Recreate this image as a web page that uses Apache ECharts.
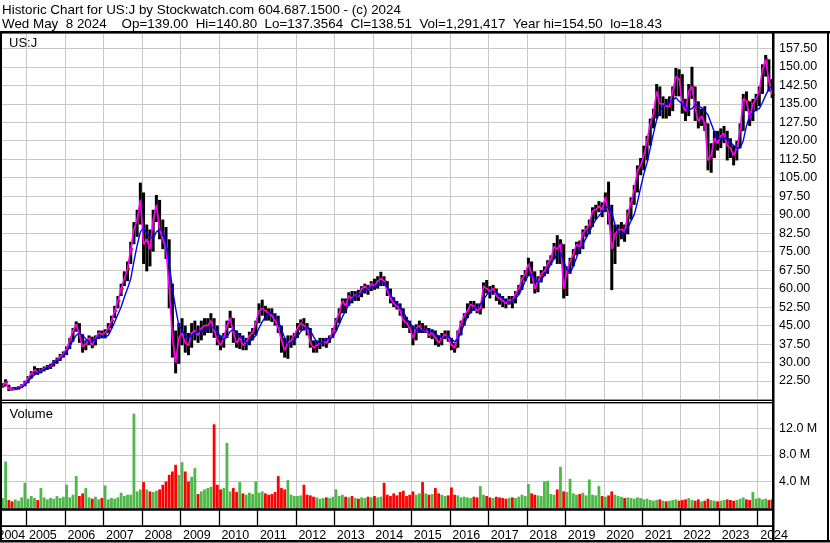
<!DOCTYPE html>
<html><head><meta charset="utf-8">
<script src="https://cdn.jsdelivr.net/npm/echarts@6/dist/echarts.min.js"></script>
<style>html,body{margin:0;padding:0;background:#fff}#c{width:830px;height:543px}</style>
</head><body><div id="c"></div>
<script>
// ---------------- DATA (monthly, May 2004 .. May 2024) ----------------
const FIRST_YEAR = 2004, FIRST_MONTH = 5;
const years = [2004,2005,2006,2007,2008,2009,2010,2011,2012,2013,2014,2015,2016,2017,2018,2019,2020,2021,2022,2023,2024];
const header1 = 'Historic Chart for US:J by Stockwatch.com 604.687.1500 - (c) 2024';
const header2 = 'Wed May  8 2024    Op=139.00  Hi=140.80  Lo=137.3564  Cl=138.51  Vol=1,291,417  Year hi=154.50  lo=18.43';
const symbolLabel = 'US:J';
const volumeLabel = 'Volume';

const closes = [
 20.5,22.0,19.3,19.2,19.5,19.8,20.6,21.8,
 23.8,25.5,27.0,26.0,26.8,27.6,28.2,28.6,30.2,31.0,32.5,33.6,
 35.6,39.0,43.0,45.5,41.0,36.5,37.5,40.0,37.0,40.0,42.0,41.5,
 42.0,44.0,47.0,51.0,55.0,60.0,64.0,68.0,76.0,84.0,88.0,96.0,
 78.0,80.0,76.0,88.0,94.0,84.0,80.0,76.0,60.0,40.0,30.0,40.0,
 42.0,38.0,37.0,42.0,43.0,41.0,44.0,45.0,45.0,47.0,43.0,39.0,
 37.0,40.0,45.0,48.0,42.0,38.0,40.0,37.0,38.0,41.0,42.0,46.0,
 51.0,52.0,51.0,50.0,49.0,47.0,44.0,39.0,35.0,38.0,39.0,41.0,
 44.0,46.0,45.0,44.0,38.0,36.0,37.0,38.0,38.5,38.0,40.0,42.5,
 47.0,50.0,55.0,53.0,57.0,56.0,57.5,57.0,60.0,61.0,59.5,62.0,
 61.0,63.0,64.0,63.0,59.0,56.0,54.0,53.0,51.0,47.0,46.0,44.0,
 40.0,44.0,45.0,43.0,43.5,41.0,42.0,40.0,38.0,40.0,41.5,40.0,
 37.0,36.0,42.0,46.0,49.0,51.0,53.5,53.0,51.0,52.0,61.0,60.0,
 59.0,60.0,57.0,56.0,55.0,54.0,55.5,55.0,58.0,60.0,64.0,66.0,
 70.0,66.0,60.0,63.0,66.0,67.0,70.0,72.0,77.0,76.0,78.0,60.0,
 67.0,71.0,74.0,78.0,77.0,82.5,84.0,86.0,91.5,92.0,93.5,92.0,
 97.0,90.0,76.0,82.0,84.0,84.0,83.0,90.0,95.0,100.0,108.0,110.0,
 114.0,120.0,127.0,131.0,140.0,135.0,135.0,134.0,134.0,140.0,146.0,145.0,
 135.0,132.0,140.0,142.0,133.0,128.0,130.0,127.0,112.0,114.0,121.0,119.0,
 122.0,123.0,118.0,117.0,114.0,117.0,124.0,137.0,136.0,129.0,135.0,137.0,
 140.0,149.0,153.0,144.0,138.5
];
const highs = [
 21.6,23.2,21.0,19.9,20.1,20.4,21.2,22.6,
 24.5,26.5,28.5,27.8,27.8,28.4,29.0,29.5,31.0,32.0,33.5,34.5,
 36.5,40.0,44.0,46.7,46.0,41.5,39.0,41.0,40.5,41.0,43.0,43.0,
 43.5,46.0,49.0,53.0,57.0,62.0,67.0,71.0,79.0,87.0,92.0,103.0,
 99.0,86.0,84.0,92.0,98.0,96.0,88.0,85.0,80.0,62.0,43.0,46.0,
 48.0,45.0,42.0,46.0,47.0,45.0,47.0,48.0,48.0,50.0,48.0,45.0,
 41.0,42.0,47.0,51.0,48.0,43.0,42.0,41.0,40.0,42.5,44.0,47.0,
 54.0,55.5,53.0,52.0,52.0,50.0,49.0,45.0,40.0,41.0,41.0,42.0,
 46.0,47.5,48.0,46.0,44.0,39.0,39.0,40.0,40.0,40.0,41.0,44.0,
 48.0,52.0,56.0,56.0,58.5,59.0,59.0,59.5,61.0,62.0,61.5,63.0,
 64.0,65.0,66.8,65.0,63.0,60.0,56.5,55.0,54.0,52.0,48.5,47.0,
 45.0,45.5,47.0,46.0,45.0,44.0,43.5,43.0,41.0,42.0,43.0,43.0,
 40.0,38.0,43.0,47.0,50.0,54.0,55.0,55.0,54.0,54.0,62.5,63.5,
 61.0,61.5,60.0,58.0,57.0,56.0,57.0,57.0,59.0,61.5,65.5,67.5,
 72.5,71.0,67.0,65.0,67.5,69.0,71.5,73.5,78.5,81.7,80.0,78.0,
 69.0,72.5,76.0,79.0,79.5,84.0,85.5,88.0,93.0,94.0,95.5,95.0,
 99.0,103.4,94.0,86.0,86.0,87.0,86.0,92.0,97.0,102.0,110.0,113.0,
 118.0,122.0,129.0,133.0,143.0,142.0,138.0,137.0,138.0,142.0,149.5,149.0,
 147.0,137.0,143.0,150.0,142.0,136.0,133.0,134.0,127.0,119.0,124.0,124.0,
 125.0,126.0,124.0,121.0,118.0,120.0,127.0,139.0,140.0,136.0,137.0,139.0,
 142.0,151.0,154.8,153.0,145.0
];
const lows = [
 19.8,20.3,18.4,18.6,18.8,19.0,19.6,20.4,
 21.6,23.5,25.2,25.0,25.6,26.4,27.0,27.4,28.4,29.5,30.6,32.0,
 33.0,35.5,38.5,42.5,38.0,34.0,35.0,37.0,35.8,37.0,39.5,39.8,
 39.8,42.0,44.0,48.0,52.0,57.0,61.0,63.0,70.0,78.0,81.0,86.0,
 70.0,67.0,69.0,75.0,87.0,80.0,76.0,72.0,52.0,32.0,25.6,29.5,
 37.0,34.0,33.0,36.0,39.0,38.0,39.0,41.0,42.0,42.0,40.0,37.0,
 35.0,36.0,40.0,44.0,38.0,36.0,35.5,35.0,35.0,37.0,39.0,41.0,
 46.0,49.0,47.0,47.0,46.5,45.0,42.0,34.0,32.0,31.5,36.0,37.0,
 40.0,43.0,43.0,41.0,36.0,34.0,34.0,35.5,36.5,36.0,38.0,40.0,
 43.0,46.0,50.0,50.0,53.0,54.0,55.0,55.0,56.5,58.0,57.5,59.0,
 59.5,60.0,61.0,61.0,57.0,54.0,52.5,51.5,49.0,44.0,44.0,42.0,
 37.0,39.0,42.0,42.0,42.0,40.0,39.5,37.0,36.4,37.0,39.5,38.5,
 35.0,34.0,36.0,41.0,45.0,48.0,50.0,51.0,50.0,49.5,52.0,58.0,
 56.0,57.5,55.0,53.5,52.5,52.0,53.5,52.0,54.0,57.5,59.5,63.0,
 65.0,62.0,58.0,58.5,62.5,65.0,66.0,69.5,72.0,70.0,70.0,56.0,
 57.0,66.0,69.0,73.5,74.0,76.0,81.0,82.0,85.0,88.0,91.0,89.0,
 91.0,86.0,59.4,70.0,77.0,80.0,79.0,82.0,88.0,94.0,99.0,106.0,
 108.0,112.0,118.0,125.0,129.0,130.0,129.0,129.0,130.0,132.0,138.0,138.0,
 131.0,128.0,130.0,137.0,128.0,125.0,126.0,124.0,108.0,107.0,113.0,116.0,
 117.0,119.0,112.0,113.0,110.0,112.0,117.0,124.0,132.0,126.0,128.0,132.0,
 134.0,139.0,146.0,140.0,137.4
];
// longer moving average (blue line)
const ma50 = [
 null,null,null,19.7,19.6,19.6,19.9,21.0,
 22.5,23.7,25.0,26.0,26.5,27.2,28.0,29.0,30.0,30.8,31.5,33.0,
 34.5,36.5,39.0,41.0,42.0,41.0,39.5,38.5,38.5,39.5,40.5,41.0,
 40.3,41.0,43.5,46.5,49.5,52.5,56.5,60.0,64.0,71.0,77.5,83.0,
 84.5,82.5,81.0,80.5,83.0,84.0,83.5,78.0,70.0,60.0,52.0,45.0,
 43.0,41.0,40.0,41.0,42.0,42.5,43.0,43.0,43.5,44.5,44.0,42.5,
 40.5,39.2,40.5,42.5,43.5,42.5,41.0,39.5,38.0,38.2,39.5,41.0,
 44.0,46.5,48.5,50.0,50.0,49.0,47.0,43.5,40.0,37.5,38.0,39.0,
 40.5,42.5,43.8,44.2,43.0,40.5,38.5,38.0,38.5,39.5,39.8,40.5,
 42.5,45.5,48.5,51.0,53.5,55.5,57.0,57.5,58.2,59.0,60.0,60.5,
 60.8,61.5,62.2,62.5,60.5,57.5,55.5,54.0,52.5,50.5,48.0,46.0,
 44.5,43.5,43.0,43.2,43.5,43.3,42.5,41.5,40.8,40.2,40.3,40.5,
 39.5,38.5,39.5,42.5,45.5,48.5,50.5,52.0,53.0,53.5,55.5,57.5,
 58.5,59.0,58.5,57.5,56.0,55.0,54.5,55.0,56.0,57.5,60.0,63.0,
 65.5,66.0,64.0,62.5,63.5,65.5,67.5,70.0,72.0,74.0,74.5,71.0,
 68.0,66.5,69.0,72.5,76.0,78.0,80.5,83.0,85.5,88.0,89.5,91.0,
 92.5,93.5,91.0,86.0,82.5,82.0,83.0,84.5,87.5,90.0,95.0,101.0,
 106.5,111.0,117.0,123.0,128.5,132.0,134.0,135.0,135.5,136.5,137.5,136.0,
 135.0,133.5,132.5,133.0,134.5,134.0,133.5,132.0,130.5,127.0,123.5,121.5,
 120.5,121.0,121.0,119.5,118.0,117.0,117.0,120.0,126.0,130.0,131.5,132.5,
 133.0,135.5,138.5,141.0,142.5
];
// volume in millions
const volumes = [
 1.5,7.0,1.2,1.0,1.3,1.1,1.6,3.8,
 1.4,1.8,1.5,1.2,3.0,1.6,1.3,1.5,1.4,1.8,1.5,1.7,
 3.5,1.6,2.0,4.8,1.8,2.2,3.0,1.6,1.4,1.7,1.3,1.5,
 3.4,1.3,1.5,1.4,1.6,2.3,1.8,2.0,2.0,14.2,2.5,2.8,
 3.9,2.8,2.5,2.4,2.6,2.8,3.5,4.0,5.0,5.5,6.5,5.0,
 6.9,5.5,4.0,4.7,6.0,2.1,2.5,2.8,3.0,3.2,12.6,3.5,
 2.8,3.0,9.8,2.5,3.0,2.4,3.9,2.2,2.0,2.3,2.1,4.0,
 2.3,2.5,2.2,2.0,2.1,2.4,4.8,3.0,2.8,4.2,2.0,1.8,
 1.8,1.9,3.5,2.0,1.9,1.7,1.6,1.4,1.5,1.6,1.5,1.7,
 2.8,1.8,2.0,1.7,1.6,1.8,1.5,1.4,1.6,1.5,1.7,1.6,
 1.8,1.6,1.7,3.8,2.0,1.8,2.2,1.9,2.4,2.6,1.8,2.0,
 2.5,2.0,2.2,3.9,2.2,2.0,2.1,3.0,2.2,2.0,1.8,1.9,
 3.1,2.0,1.9,1.6,1.7,1.6,1.5,1.7,1.6,3.3,2.0,1.8,
 1.6,1.5,1.7,1.6,1.5,1.4,1.5,1.6,1.5,1.7,2.0,1.8,
 3.6,2.2,2.0,1.9,1.8,4.0,4.1,2.1,2.0,2.8,6.2,2.5,
 2.4,4.4,2.2,2.0,2.1,2.3,1.9,4.3,2.0,1.9,3.3,1.8,
 1.7,1.9,2.5,2.0,1.8,1.7,1.5,1.6,1.5,1.4,1.6,1.5,
 1.3,1.4,1.2,1.1,1.2,1.3,1.1,1.0,1.1,1.2,1.3,1.1,
 1.2,1.3,1.5,1.2,1.1,1.3,1.0,1.1,1.4,1.2,1.1,1.0,
 1.1,1.2,1.3,1.2,1.1,1.2,1.4,1.6,1.3,1.2,2.4,1.4,
 1.5,1.3,1.4,1.2,1.3
];

// ---------------- CHART ----------------
const FONT = '"Liberation Sans", Arial, sans-serif';
const monthTime = closes.map((_, i) => {
  const m = FIRST_MONTH - 1 + i;
  return FIRST_YEAR + Math.floor(m / 12) + ((m % 12) + 0.5) / 12;
});
const X_MIN = years[0], X_MAX = 2024.398;
const GRID_LEFT = -11.98, GRID_RIGHT = 57;

const priceData = monthTime.map((t, i) => [t, highs[i], lows[i], closes[i]]);
const closeLine = monthTime.map((t, i) => [t, closes[i]]);
const maLine = monthTime.map((t, i) => [t, ma50[i]]);
const volData = monthTime.map((t, i) => [t, volumes[i], i > 0 && closes[i] < closes[i - 1] ? 1 : 0]);

const chart = echarts.init(document.getElementById('c'), null, { renderer: 'canvas' });
const grayLine = { color: '#c8c8c8', width: 1 };
const black = '#000';

chart.setOption({
  animation: false,
  backgroundColor: '#fff',
  textStyle: { fontFamily: FONT },
  grid: [
    { left: GRID_LEFT, right: GRID_RIGHT, top: 33, height: 366.5, outerBoundsMode: 'none', containLabel: false },
    { left: GRID_LEFT, right: GRID_RIGHT, top: 403, height: 105, outerBoundsMode: 'none', containLabel: false }
  ],
  xAxis: [
    { type: 'value', gridIndex: 0, min: X_MIN, max: X_MAX, interval: 1,
      axisLine: { show: false }, axisTick: { show: false }, axisLabel: { show: false },
      splitLine: { show: true, lineStyle: grayLine } },
    { type: 'value', gridIndex: 1, min: X_MIN, max: X_MAX, interval: 1,
      axisLine: { show: false },
      axisTick: { show: true, inside: false, length: 17.5, lineStyle: { color: black, width: 1.3 } },
      axisLabel: { show: true, showMinLabel: true, showMaxLabel: false, hideOverlap: false,
        align: 'left', margin: 21, padding: [0, 0, 0, 2.5], fontSize: 12.5, color: black, fontFamily: FONT,
        formatter: v => (Math.abs(v - Math.round(v)) > 1e-6 ? '' : (v === years[0] ? '\u00a0\u00a0' + v : String(v))) },
      splitLine: { show: true, lineStyle: grayLine } }
  ],
  yAxis: [
    { type: 'value', gridIndex: 0, position: 'right', min: 15, max: 163.71, interval: 7.5,
      axisLine: { show: false }, axisTick: { show: false },
      axisLabel: { showMinLabel: false, showMaxLabel: false, margin: 6, fontSize: 12.5, color: black, fontFamily: FONT,
        formatter: v => v.toFixed(2) },
      splitLine: { show: true, lineStyle: grayLine } },
    { type: 'value', gridIndex: 1, position: 'right', min: 0, max: 15.81, interval: 4,
      axisLine: { show: false }, axisTick: { show: false },
      axisLabel: { showMinLabel: false, showMaxLabel: false, margin: 6, fontSize: 12.5, color: black, fontFamily: FONT,
        formatter: v => v.toFixed(1) + ' M' },
      splitLine: { show: true, lineStyle: grayLine } }
  ],
  series: [
    { type: 'custom', xAxisIndex: 0, yAxisIndex: 0, data: priceData, encode: { x: 0, y: [1, 2] }, z: 2,
      renderItem: (params, api) => {
        const t = api.value(0);
        const hi = api.coord([t, api.value(1)]);
        const lo = api.coord([t, api.value(2)]);
        const cl = api.coord([t, api.value(3)]);
        return { type: 'group', children: [
          { type: 'rect', shape: { x: hi[0] - 1.5, y: hi[1], width: 3, height: Math.max(1, lo[1] - hi[1]) }, style: { fill: black } },
          { type: 'rect', shape: { x: cl[0] + 0.5, y: cl[1] - 1, width: 2, height: 2 }, style: { fill: '#ff0000' } }
        ] };
      } },
    { type: 'line', xAxisIndex: 0, yAxisIndex: 0, data: closeLine, showSymbol: false, symbol: 'none', z: 3,
      lineStyle: { color: '#ff00ff', width: 1.6 }, emphasis: { disabled: true } },
    { type: 'line', xAxisIndex: 0, yAxisIndex: 0, data: maLine, showSymbol: false, symbol: 'none', z: 4, connectNulls: false,
      lineStyle: { color: '#0000ff', width: 1.4 }, emphasis: { disabled: true } },
    { type: 'custom', xAxisIndex: 1, yAxisIndex: 1, data: volData, encode: { x: 0, y: 1 }, z: 2,
      renderItem: (params, api) => {
        const t = api.value(0);
        const top = api.coord([t, api.value(1)]);
        const base = api.coord([t, 0]);
        return { type: 'rect', shape: { x: top[0] - 1.4, y: top[1], width: 2.8, height: base[1] - top[1] },
          style: { fill: api.value(2) ? '#ff0000' : '#4cb848' } };
      } }
  ],
  graphic: [
    { type: 'text', x: 2, y: 10.5, z: 100, style: { text: header1, font: '13.4px ' + FONT, fill: black, verticalAlign: 'middle' } },
    { type: 'text', x: 2, y: 24.2, z: 100, style: { text: header2, font: '13.4px ' + FONT, fill: black, verticalAlign: 'middle' } },
    { type: 'text', x: 9, y: 43, z: 100, style: { text: symbolLabel, font: '13px ' + FONT, fill: black, verticalAlign: 'middle' } },
    { type: 'text', x: 9.5, y: 414.5, z: 100, style: { text: volumeLabel, font: '13px ' + FONT, fill: black, verticalAlign: 'middle' } },
    { type: 'rect', z: 100, shape: { x: 0, y: 31, width: 830, height: 2.5 }, style: { fill: black } },
    { type: 'rect', z: 100, shape: { x: 0, y: 31, width: 2, height: 511 }, style: { fill: black } },
    { type: 'rect', z: 100, shape: { x: 772, y: 31, width: 2.5, height: 511 }, style: { fill: black } },
    { type: 'rect', z: 100, shape: { x: 827, y: 31, width: 2, height: 511 }, style: { fill: black } },
    { type: 'rect', z: 100, shape: { x: 0, y: 399.8, width: 773, height: 1.2 }, style: { fill: black } },
    { type: 'rect', z: 100, shape: { x: 0, y: 402, width: 773, height: 1.2 }, style: { fill: black } },
    { type: 'rect', z: 100, shape: { x: 0, y: 508.3, width: 773, height: 2.5 }, style: { fill: black } },
    { type: 'rect', z: 100, shape: { x: 0, y: 525.3, width: 773, height: 1.6 }, style: { fill: black } },
    { type: 'rect', z: 100, shape: { x: 0, y: 540, width: 830, height: 2.5 }, style: { fill: black } }
  ]
});
</script></body></html>
